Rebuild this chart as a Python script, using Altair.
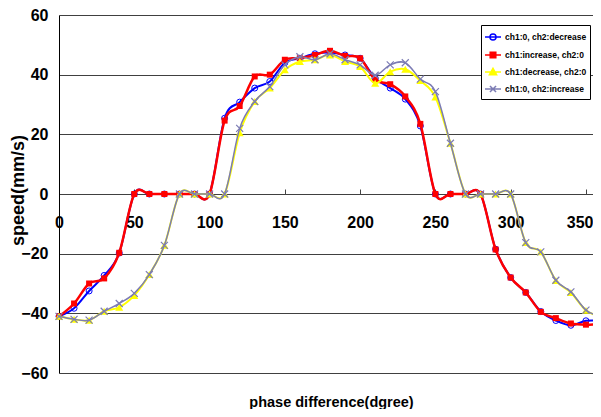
import altair as alt
import pandas as pd

angles = list(range(0, 361, 10))

blue = [-41, -38.3, -32.5, -27.3, -19.8, 0, 0, 0, 0, 0, 0, 25.4, 30.8, 35.5, 37.7, 44,
        45.5, 47, 47.4, 46.6, 45.5, 38.8, 35.5, 31.8, 22.8, 0, 0, 0, 0, -18.5, -28, -33,
        -39.4, -42.4, -44, -42.5, -42.5]
red = [-41, -36.7, -30, -28.3, -19.7, 0, 0, 0, 0, 0, 0, 24.6, 29.5, 39.4, 40, 45,
       45.5, 46.6, 48, 46.3, 45.5, 38.3, 36.8, 32.7, 23.5, 0, 0, 0, 0, -18.6, -28, -33,
       -39.5, -41.6, -43.4, -43.8, -43.5]
yellow = [-41, -42, -42.3, -39.3, -38, -34, -27, -17.2, 0, 0, 0, 0, 20.5, 31, 35.5, 41.6,
          44.4, 45, 46.6, 44.4, 42.7, 37.1, 41, 41.8, 38, 32.5, 17, 0, 0, 0, 0, -16.3,
          -19.4, -29, -33, -39, -41]
gray = [-41, -42, -42.3, -39.3, -36.7, -33.3, -27, -17.2, 0, 0, 0, 0, 22, 31, 36, 43.3,
        46, 45, 47, 45, 43.3, 39.8, 43.3, 44, 38.5, 34.3, 17, 0, 0, 0, 0, -16.3,
        -19.4, -28.9, -32.8, -38.9, -41]

names = ["ch1:0, ch2:decrease", "ch1:increase, ch2:0",
         "ch1:decrease, ch2:0", "ch1:0, ch2:increase"]
cols = ["blue", "red", "yellow", "gray"]
colors = ["#0000FF", "#FF0000", "#FFFF00", "#7C7CB4"]
fills = ["transparent", "#FF0000", "#FFFF00", "transparent"]

x_ticks = [0, 50, 100, 150, 200, 250, 300, 350]
y_ticks = [-60, -40, -20, 0, 20, 40, 60]

df = pd.DataFrame({"angle": angles, "blue": blue, "red": red,
                   "yellow": yellow, "gray": gray})
legend_df = pd.DataFrame({"series": names, "angle": [0] * 4, "v": [0] * 4})

FONT = "Liberation Sans"
xscale = alt.Scale(domain=[0, 360], range=[0, 542], nice=False, zero=False)
yscale = alt.Scale(domain=[-60, 60], nice=False, zero=False)

x_bottom = alt.X("angle:Q", scale=xscale, axis=alt.Axis(
    orient="bottom", offset=-179, values=x_ticks, ticks=False, domain=False,
    grid=False, labelFlush=False, labelPadding=20, labelFontSize=16,
    labelAlign={"condition": {"test": "datum.value == 350", "value": "right"},
                "value": "center"},
    labelOffset={"condition": {"test": "datum.value == 350", "value": 7},
                 "value": 0},
    labelFontWeight="bold", labelFont=FONT, labelColor="#000",
    title="phase difference(dgree)", titleX=272, titleY=208,
    titleAlign="center", titleBaseline="middle", titleFontSize=14.5,
    titleFontWeight="bold", titleFont=FONT, titleColor="#000"))
x_top = alt.X("angle:Q", scale=xscale, axis=alt.Axis(
    orient="top", offset=-179, values=x_ticks, ticks=True, tickSize=5,
    tickColor="#444", labels=False, domain=False, grid=False, title=None))
x_none = alt.X("angle:Q", scale=xscale, axis=None)

y_axis = alt.Axis(
    orient="left", values=y_ticks, ticks=False, domain=True, domainColor="#000",
    domainWidth=1, grid=True, gridColor="#404040", gridWidth=1, labelPadding=11,
    labelFontSize=16, labelFontWeight="bold", labelFont=FONT, labelColor="#000",
    title="speed(mm/s)", titleX=-41, titleY=175, titleAngle=270,
    titleAlign="center", titleBaseline="middle", titleFontSize=18,
    titleFontWeight="bold", titleFont=FONT, titleColor="#000")

base = alt.Chart(df)
widths = [2, 2.5, 2, 1.5]
layers = []
for i, c in enumerate(cols):
    xenc = x_bottom if i == 0 else x_none
    yenc = alt.Y(f"{c}:Q", scale=yscale, axis=y_axis)
    layers.append(base.mark_line(color=colors[i], strokeWidth=widths[i],
                                 interpolate="cardinal").encode(x=xenc, y=yenc))
    if c == "blue":
        m = base.mark_point(shape="circle", filled=False, color=colors[i],
                            strokeWidth=1, size=36, opacity=1)
    elif c == "red":
        m = base.mark_point(shape="square", filled=True, color=colors[i],
                            size=36, opacity=1)
    elif c == "yellow":
        m = base.mark_point(shape="triangle-up", filled=True, color=colors[i],
                            size=64, opacity=1)
    else:
        m = base.mark_point(shape="M-1,-1L1,1M-1,1L1,-1", filled=False,
                            color=colors[i], strokeWidth=1.2, size=49, opacity=1)
    layers.append(m.encode(x=x_none, y=yenc))

legend_paths = [
    "M-1,0H1M-0.38,0A0.38,0.38 0 1,0 0.38,0A0.38,0.38 0 1,0 -0.38,0",
    "M-1,0H1M-0.35,-0.35H0.35V0.35H-0.35Z",
    "M-1,0H1M0,-0.45L0.45,0.35H-0.45Z",
    "M-1,0H1M-0.38,-0.38L0.38,0.38M-0.38,0.38L0.38,-0.38",
]
leg = alt.Legend(title=None, orient="none", legendX=422, legendY=10,
                 strokeColor="#000", fillColor="#FFFFFF", padding=3,
                 labelFont=FONT, labelFontSize=8.5, labelFontWeight="bold",
                 labelColor="#000", symbolSize=256, symbolStrokeWidth=1.5,
                 rowPadding=2, labelOffset=3, cornerRadius=0)
legend_layer = alt.Chart(legend_df).transform_filter("false").mark_point(
    opacity=1, filled=False).encode(
    x=x_top,
    y=alt.Y("v:Q", scale=yscale, axis=y_axis),
    stroke=alt.Stroke("series:N", scale=alt.Scale(domain=names, range=colors), legend=leg),
    fill=alt.Fill("series:N", scale=alt.Scale(domain=names, range=fills), legend=leg),
    shape=alt.Shape("series:N", scale=alt.Scale(domain=names, range=legend_paths), legend=leg),
)

chart = alt.layer(*layers, legend_layer).resolve_axis(x="independent").properties(
    width=534, height=358,
    autosize=alt.AutoSizeParams(type="none"),
    padding={"left": 51, "top": 7, "right": 0, "bottom": 36},
    background="#FFFFFF",
).configure_view(stroke=None)

chart.save("out.html", embed_options={"renderer": "svg", "actions": False})
